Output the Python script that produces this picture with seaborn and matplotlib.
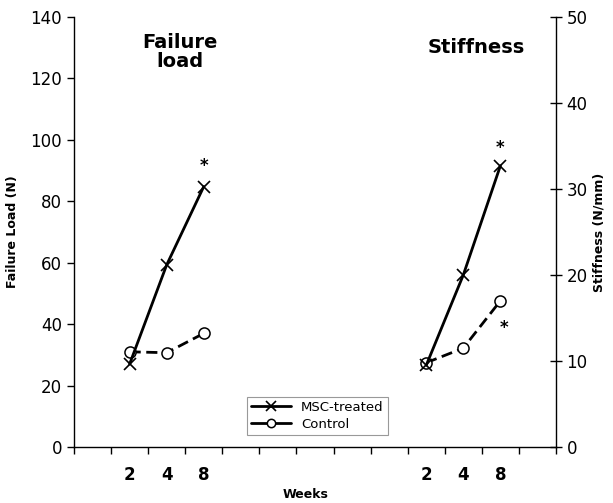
import numpy as np
import seaborn as sns
import matplotlib.pyplot as plt

# Values
weeks = ['2', '4', '8']
fl_msc = [27.0, 59.3, 84.8]      # failure load, MSC-treated (N)
fl_ctrl = [31.0, 30.7, 37.0]     # failure load, control (N)
st_msc = [9.5, 20.0, 32.7]       # stiffness, MSC-treated (N/mm)
st_ctrl = [9.8, 11.5, 17.0]      # stiffness, control (N/mm)

# slot of each week on the shared x axis (13 slots, the rest are gaps)
fl_slots = [1, 2, 3]
st_slots = [9, 10, 11]
n_slots = 13

sns.set_style('ticks')
plt.rcParams['font.family'] = ['DejaVu Sans']
plt.rcParams['text.color'] = 'black'
plt.rcParams['axes.labelcolor'] = 'black'
plt.rcParams['xtick.color'] = 'black'
plt.rcParams['ytick.color'] = 'black'

fig = plt.figure(figsize=(6.13, 5.03), dpi=100)
ax = fig.add_axes([0.1207, 0.1113, 0.7863, 0.8549])
ax2 = ax.twinx()

x_fl = np.array(fl_slots) + 0.5
x_st = np.array(st_slots) + 0.5

msc_kw = dict(color='black', lw=2, marker='x', ms=9, mew=1.2, mec='black')
ctrl_kw = dict(color='black', lw=2, linestyle=(0, (4, 2)), marker='o', ms=8,
               mfc='white', mec='black', mew=1.1)

# Failure load on the left axis
sns.lineplot(x=x_fl, y=fl_ctrl, ax=ax, label='Control', zorder=2, **ctrl_kw)
sns.lineplot(x=x_fl, y=fl_msc, ax=ax, label='MSC-treated', zorder=3, **msc_kw)
if ax.get_legend() is not None:
    ax.get_legend().remove()

# Stiffness on the right axis
sns.lineplot(x=x_st, y=st_ctrl, ax=ax2, zorder=2, **ctrl_kw)
sns.lineplot(x=x_st, y=st_msc, ax=ax2, zorder=3, **msc_kw)

ax.set_xlim(0, n_slots)
ax.set_ylim(0, 140)
ax2.set_ylim(0, 50)

ax.set_xticks(np.arange(0, n_slots + 1))
ax.set_xticklabels([])
ax.tick_params(axis='x', which='major', length=5, width=1, direction='out')
ax.set_xticks(np.concatenate([x_fl, x_st]), minor=True)
ax.set_xticklabels(weeks + weeks, minor=True, fontsize=12, fontweight='bold')
ax.tick_params(axis='x', which='minor', length=0, pad=14)

ax.set_yticks(np.arange(0, 141, 20))
ax.tick_params(axis='y', labelsize=12, length=5, width=1)
ax2.set_yticks(np.arange(0, 51, 10))
ax2.tick_params(axis='y', labelsize=12, length=8, width=1, direction='inout')

for s in ['top', 'right']:
    ax.spines[s].set_visible(False)
for s in ['top', 'left', 'bottom']:
    ax2.spines[s].set_visible(False)
for a in [ax, ax2]:
    for s in a.spines.values():
        s.set_color('black')
        s.set_linewidth(1)

ax.set_ylabel('Failure Load (N)', fontsize=9, fontweight='bold')
ax.yaxis.set_label_coords(-0.115, 0.5)
ax2.set_ylabel('Stiffness (N/mm)', fontsize=9, fontweight='bold')
ax2.yaxis.set_label_coords(1.075, 0.5)
ax.set_xlabel('Weeks', fontsize=9, fontweight='bold')
ax.xaxis.set_label_coords(0.48, -0.095)

# panel titles
ax.text(2.86, 128.5, 'Failure\nload', ha='center', va='center', fontsize=14,
        fontweight='bold', linespacing=1.0)
ax.text(10.84, 130, 'Stiffness', ha='center', va='center', fontsize=14,
        fontweight='bold')

# significance marks
ax.text(3.5, 91.5, '*', ha='center', va='center', fontsize=12, fontweight='bold')
ax2.text(11.5, 34.8, '*', ha='center', va='center', fontsize=12, fontweight='bold')
ax2.text(11.6, 13.8, '*', ha='center', va='center', fontsize=12, fontweight='bold')

# legend, both entries drawn with solid lines
h_ctrl, h_msc = ax.get_lines()[:2]
leg = ax2.legend([h_msc, h_ctrl], ['MSC-treated', 'Control'], loc='lower left',
                 bbox_to_anchor=(0.359, 0.028), borderaxespad=0, fontsize=9.5,
                 handlelength=3, markerscale=0.75, fancybox=False, framealpha=1,
                 edgecolor='#999999', borderpad=0.3, labelspacing=0.3)
leg.get_frame().set_linewidth(0.8)
for line in leg.get_lines():
    line.set_linestyle('-')

fig.savefig('out.png', dpi=100)
